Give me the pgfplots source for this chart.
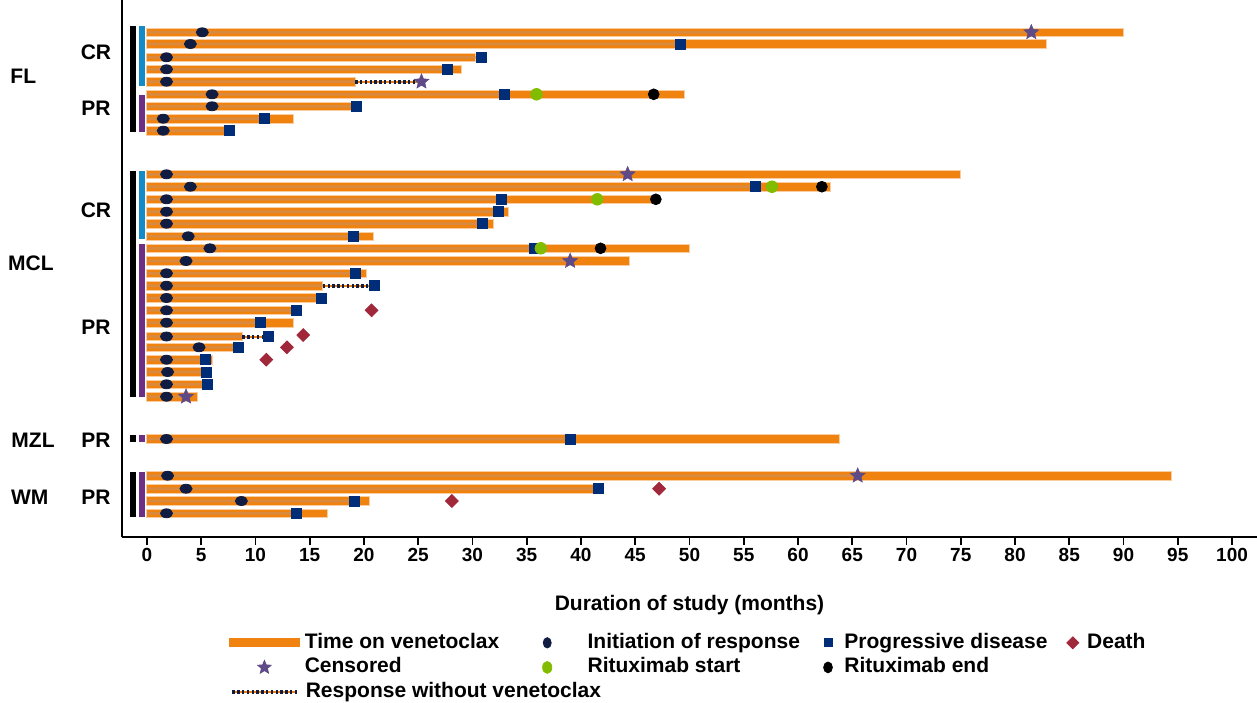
\documentclass[border=0pt]{standalone}
\usepackage{fontspec}
\setmainfont{Liberation Sans}
\usepackage{pgfplots}
\usepackage{pgfplotstable}
\pgfplotsset{compat=1.18}

\definecolor{venorange}{RGB}{240,130,15}
\definecolor{venedge}{RGB}{250,205,160}
\definecolor{venstripe}{RGB}{218,138,62}
\definecolor{respnavy}{RGB}{16,28,66}
\definecolor{pdblue}{RGB}{0,45,120}
\definecolor{ritgreen}{RGB}{130,188,0}
\definecolor{deathred}{RGB}{160,40,58}
\definecolor{censpurple}{RGB}{94,74,135}
\definecolor{crblue}{RGB}{20,138,198}
\definecolor{prpurple}{RGB}{110,48,135}

% filled five-pointed star
\pgfdeclareplotmark{fstar}{%
  \pgfpathmoveto{\pgfpointpolar{90}{\pgfplotmarksize}}%
  \pgfpathlineto{\pgfpointpolar{126}{0.45*\pgfplotmarksize}}%
  \pgfpathlineto{\pgfpointpolar{162}{\pgfplotmarksize}}%
  \pgfpathlineto{\pgfpointpolar{198}{0.45*\pgfplotmarksize}}%
  \pgfpathlineto{\pgfpointpolar{234}{\pgfplotmarksize}}%
  \pgfpathlineto{\pgfpointpolar{270}{0.45*\pgfplotmarksize}}%
  \pgfpathlineto{\pgfpointpolar{306}{\pgfplotmarksize}}%
  \pgfpathlineto{\pgfpointpolar{342}{0.45*\pgfplotmarksize}}%
  \pgfpathlineto{\pgfpointpolar{18}{\pgfplotmarksize}}%
  \pgfpathlineto{\pgfpointpolar{54}{0.45*\pgfplotmarksize}}%
  \pgfpathclose
  \pgfusepathqfillstroke}

% y = row position (top down), end = time on venetoclax, stripe = end of response period
\pgfplotstableread{
y end stripe
32.3 90.0 81.5
44.0 82.9 49.2
57.3 30.3 30.3
69.3 29.0 27.7
81.7 19.2 19.2
94.3 49.5 32.9
106.3 19.2 19.2
118.7 13.5 10.8
130.7 7.3 7.3
174.3 75.0 44.3
186.7 63.0 56.1
199.3 47.0 32.7
211.7 33.3 32.4
223.7 31.9 30.9
236.3 20.9 19.0
248.3 50.0 35.7
261.0 44.5 39.0
273.3 20.2 19.2
285.7 16.2 16.2
298.0 15.8 15.8
310.3 13.6 13.6
322.7 13.5 10.5
336.5 8.8 8.8
347.3 8.4 8.4
359.7 6.0 5.4
372.0 5.5 5.5
384.3 6.0 5.6
396.7 4.7 3.6
439.0 63.8 39.0
475.7 94.4 65.5
488.7 41.6 41.6
501.0 20.5 19.1
513.3 16.6 13.8
}\bars

\pgfplotstableread{
x y
5.1 32.3
4.0 44.0
1.8 57.3
1.8 69.3
1.8 81.7
6.0 94.3
6.0 106.3
1.5 118.7
1.5 130.7
1.8 174.3
4.0 186.7
1.8 199.3
1.8 211.7
1.8 223.7
3.8 236.3
5.8 248.3
3.6 261.0
1.8 273.3
1.8 285.7
1.8 298.0
1.8 310.3
1.8 322.7
1.8 336.5
4.8 347.3
1.8 359.7
1.9 372.0
1.8 384.3
1.8 396.7
1.8 439.0
1.9 475.7
3.6 488.7
8.7 501.0
1.8 513.3
}\resp

\pgfplotstableread{
x y
49.2 44.0
30.8 57.3
27.7 69.3
32.9 94.3
19.3 106.3
10.8 118.7
7.6 130.7
56.1 186.7
32.7 199.3
32.4 211.7
30.9 223.7
19.0 236.3
35.7 248.3
19.2 273.3
21.0 285.7
16.1 298.0
13.8 310.3
10.5 322.7
11.2 336.5
8.4 347.3
5.4 359.7
5.5 372.0
5.6 384.3
39.0 439.0
41.6 488.7
19.1 501.0
13.8 513.3
}\prog

\pgfplotstableread{
x y
81.5 32.3
25.3 81.7
44.3 174.3
39.0 261.0
3.6 396.7
65.5 475.7
}\cens

\pgfplotstableread{
x y
35.9 94.3
57.6 186.7
41.5 199.3
36.3 248.3
}\ritstart

\pgfplotstableread{
x y
46.7 94.3
62.2 186.7
46.9 199.3
41.8 248.3
}\ritend

\pgfplotstableread{
x y
20.7 310.3
14.4 335.0
12.9 347.3
11.0 359.7
47.2 488.7
28.1 501.0
}\death

\begin{document}
\begin{tikzpicture}
\useasboundingbox (-61pt,-82.5pt) rectangle (567.5pt,268.5pt);
\begin{axis}[
  at={(0,0)}, anchor=south west,
  scale only axis, width=567.5pt, height=268.5pt,
  xmin=-2.3, xmax=102.3, ymin=0, ymax=537, y dir=reverse,
  axis x line*=bottom, axis y line*=left,
  axis line style={line width=1pt, -},
  ytick=\empty,
  xtick={0,5,...,100},
  tick align=outside, major tick length=4pt,
  tick style={black, line width=0.8pt},
  /pgf/number format/assume math mode=true,
  xticklabel style={font=\fontsize{9.5}{11}\selectfont\bfseries, yshift=2pt},
  xlabel={Duration of study (months)},
  xlabel style={at={(axis description cs:0.5,-0.1266)}, anchor=center,
    font=\fontsize{10.5}{12}\selectfont\bfseries},
  clip=false,
  legend columns=4,
  legend cell align=left,
  legend style={at={(axis description cs:0.0943,-0.1788)}, anchor=north west,
    draw=none, fill=none, inner sep=0pt, outer sep=0pt,
    column sep=0pt, row sep=2.5pt,
    font=\fontsize{10.5}{12}\selectfont\bfseries,
    nodes={inner sep=0pt, text height=7.6pt, text depth=2.2pt}},
]
% group bars
\addplot[black, line width=3.3pt, forget plot, unbounded coords=jump] coordinates {
  (-1.3,26) (-1.3,132) (nan,nan) (-1.3,171) (-1.3,397) (nan,nan)
  (-1.3,435) (-1.3,442) (nan,nan) (-1.3,472) (-1.3,517)};
\addplot[crblue, line width=3.3pt, forget plot, unbounded coords=jump] coordinates {
  (-0.45,26) (-0.45,86) (nan,nan) (-0.45,171) (-0.45,239)};
\addplot[prpurple, line width=3.3pt, forget plot, unbounded coords=jump] coordinates {
  (-0.45,95) (-0.45,132) (nan,nan) (-0.45,244) (-0.45,397) (nan,nan)
  (-0.45,435) (-0.45,442) (nan,nan) (-0.45,472) (-0.45,517)};

% time on venetoclax
\addplot[xbar, bar shift=0pt, bar width=4.3pt, fill=venorange, draw=venedge,
  line width=0.5pt, forget plot] table[x=end, y=y] {\bars};
\addplot[xbar, bar shift=0pt, bar width=1.3pt, fill=venstripe, draw=none,
  forget plot] table[x=stripe, y=y] {\bars};

% response without venetoclax
\addplot[venorange, line width=1pt, forget plot, unbounded coords=jump] coordinates {
  (19.2,81.7) (25.3,81.7) (nan,nan) (16.2,285.7) (21.0,285.7) (nan,nan) (8.8,336.5) (11.2,336.5)};
\addplot[respnavy, line width=2pt, dash pattern=on 1.2pt off 1.2pt, forget plot,
  unbounded coords=jump] coordinates {
  (19.2,81.7) (25.3,81.7) (nan,nan) (16.2,285.7) (21.0,285.7) (nan,nan) (8.8,336.5) (11.2,336.5)};

% events
\addplot[only marks, mark=*, mark size=2.25pt, mark options={xscale=1.35, fill=respnavy, draw=respnavy},
  forget plot] table {\resp};
\addplot[only marks, mark=square*, mark size=2.5pt, mark options={fill=pdblue, draw=pdblue},
  forget plot] table {\prog};
\addplot[only marks, mark=*, mark size=2.9pt, mark options={fill=ritgreen, draw=ritgreen},
  forget plot] table {\ritstart};
\addplot[only marks, mark=*, mark size=2.7pt, mark options={fill=black, draw=black},
  forget plot] table {\ritend};
\addplot[only marks, mark=fstar, mark size=4pt, mark options={fill=censpurple, draw=censpurple, line width=0.2pt},
  forget plot] table {\cens};
\addplot[only marks, mark=diamond*, mark size=3.2pt, mark options={xscale=1.33, fill=deathred, draw=deathred},
  forget plot] table {\death};

% group labels
\begin{scope}[every node/.style={font=\fontsize{10.5}{12}\selectfont\bfseries}]
\node at (axis cs:-11.4,76) {FL};
\node at (axis cs:-4.7,52) {CR};
\node at (axis cs:-4.7,108) {PR};
\node at (axis cs:-10.7,263) {MCL};
\node at (axis cs:-4.7,210) {CR};
\node at (axis cs:-4.7,327) {PR};
\node at (axis cs:-10.5,440) {MZL};
\node at (axis cs:-4.7,440) {PR};
\node at (axis cs:-10.8,497) {WM};
\node at (axis cs:-4.7,497) {PR};
\end{scope}

% legend
\addlegendimage{legend image code/.code={\fill[venorange] (0pt,-2pt) rectangle (35pt,2pt);}}
\addlegendentry{\makebox[106pt][l]{\hspace{2.5pt}Time on venetoclax}}
\addlegendimage{legend image code/.code={\path (0pt,0pt) (35pt,0pt); \fill[respnavy] (17.5pt,0pt) ellipse (2pt and 2.6pt);}}
\addlegendentry{\makebox[118.5pt][l]{\hspace{2.5pt}Initiation of response}}
\addlegendimage{legend image code/.code={\path (0pt,0pt) (8pt,0pt); \fill[pdblue] (2pt,-2pt) rectangle (6pt,2pt);}}
\addlegendentry{\makebox[114pt][l]{\hspace{4pt}Progressive disease}}
\addlegendimage{legend image code/.code={\path (0pt,0pt) (8pt,0pt); \fill[deathred] (4pt,3pt) -- (7pt,0pt) -- (4pt,-3pt) -- (1pt,0pt) -- cycle;}}
\addlegendentry{\hspace{3pt}Death}
\addlegendimage{legend image code/.code={\path (0pt,0pt) (35pt,0pt); \path[fill=censpurple, draw=censpurple] plot[mark=fstar, mark size=3.5pt] coordinates {(17.5pt,0pt)};}}
\addlegendentry{\makebox[106pt][l]{\hspace{2.5pt}Censored}}
\addlegendimage{legend image code/.code={\path (0pt,0pt) (35pt,0pt); \fill[ritgreen] (17.5pt,0pt) ellipse (2.3pt and 3pt);}}
\addlegendentry{\makebox[118.5pt][l]{\hspace{2.5pt}Rituximab start}}
\addlegendimage{legend image code/.code={\path (0pt,0pt) (8pt,0pt); \fill[black] (4pt,0pt) ellipse (2.2pt and 2.7pt);}}
\addlegendentry{\makebox[114pt][l]{\hspace{4pt}Rituximab end}}
\addlegendimage{empty legend}
\addlegendentry{}
\addlegendimage{legend image code/.code={\draw[venorange, line width=1pt] (1.5pt,0pt) -- (34pt,0pt); \draw[respnavy, line width=2pt, dash pattern=on 1.2pt off 1.2pt] (1.5pt,0pt) -- (34pt,0pt);}}
\addlegendentry{\rlap{\hspace{2.5pt}Response without venetoclax}}
\end{axis}
\end{tikzpicture}
\end{document}
